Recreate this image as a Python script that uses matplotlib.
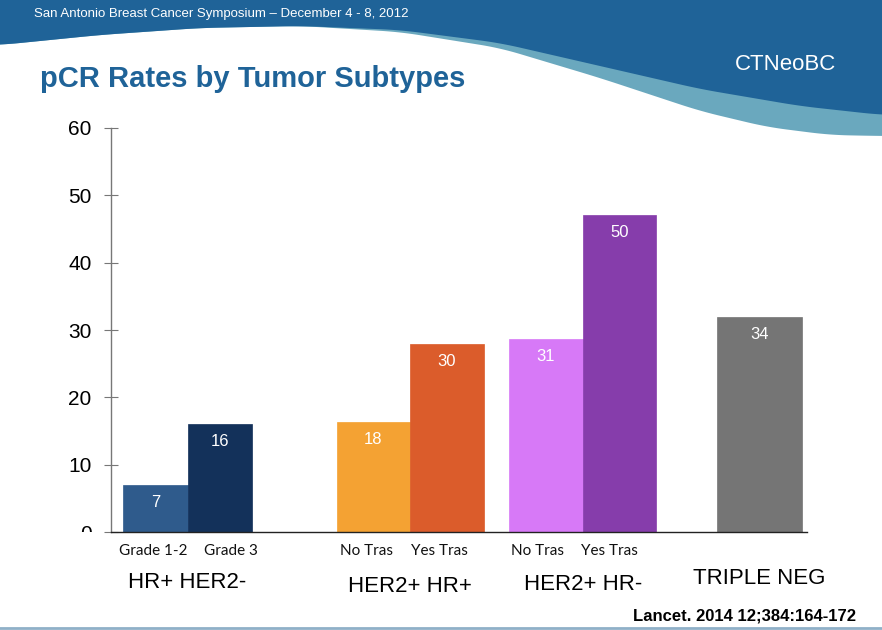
import numpy as np
import matplotlib.pyplot as plt
from matplotlib.transforms import Bbox, TransformedBbox

# ---- data ----
groups = ["HR+ HER2-", "HER2+ HR+", "HER2+ HR-", "TRIPLE NEG"]
sub_labels = [["Grade 1-2", "Grade 3"], ["No Tras", "Yes Tras"], ["No Tras", "Yes Tras"], [""]]
# bar heights as drawn on the slide
heights = [[7.0, 16.0], [16.3, 27.9], [28.7, 47.1], [31.9]]
# numbers printed inside the bars
value_labels = [["7", "16"], ["18", "30"], ["31", "50"], ["34"]]
bar_colors = [["#2f5b8c", "#13315a"], ["#f4a233", "#db5c2b"], ["#d779f7", "#863dab"], ["#757575"]]
yticks = [0, 10, 20, 30, 40, 50, 60]

# layout (x in axis units)
group_x = [0.87, 3.40, 5.36, 7.37]
bar_w = [0.73, 0.835, 0.835, 0.97]
sub_dx = [[-0.39, 0.49], [-0.50, 0.33], [-0.51, 0.31], [0]]
group_dy = [-1, 3, 0, -6]   # pixel nudges of the group captions

W, H = 882, 630
DARK = "#1f6398"
LIGHT = "#6aa8be"
FONT = "Liberation Sans"


def px(x, y):
    return x / W, 1 - y / H


def smooth_edge(pts, xs, win=41):
    xp, yp = zip(*pts)
    y = np.interp(xs, xp, yp)
    k = np.ones(win) / win
    pad = np.pad(y, win // 2, mode="edge")
    return np.convolve(pad, k, mode="valid")


fig = plt.figure(figsize=(W / 100, H / 100), dpi=100)

# ---- slide header waves ----
bg = fig.add_axes([0, 0, 1, 1])
bg.set_xlim(0, W)
bg.set_ylim(H, 0)
bg.axis("off")

xs = np.linspace(0, W, 883)
white_edge = smooth_edge([(0, 45), (100, 35), (200, 28), (300, 26), (400, 32), (500, 48),
                          (600, 78), (700, 111), (767, 127), (830, 135), (882, 136)], xs)
dark_edge = smooth_edge([(0, 45), (100, 35), (200, 28), (300, 26), (400, 30), (500, 43),
                         (600, 66), (700, 89), (800, 106), (882, 115)], xs)
dark_edge = np.minimum(dark_edge, white_edge)
bg.fill_between(xs, 0, white_edge, color=LIGHT, lw=0)
bg.fill_between(xs, 0, dark_edge, color=DARK, lw=0)
bg.axhline(628, color="#8fb0c8", lw=2)

fig.text(*px(34, 14), "San Antonio Breast Cancer Symposium \u2013 December 4 - 8, 2012",
         color="white", fontsize=9.5, family=FONT, va="center", ha="left")
fig.text(*px(786, 65), "CTNeoBC", color="white", fontsize=16, family=FONT,
         va="center", ha="center")
fig.text(*px(40, 87), "pCR Rates by Tumor Subtypes", color=DARK, fontsize=21,
         family=FONT, weight="bold", va="baseline", ha="left")
fig.text(*px(856, 616), "Lancet. 2014 12;384:164-172", color="black", fontsize=12,
         family=FONT, weight="bold", va="center", ha="right")

# ---- bar chart ----
ax = fig.add_axes([111 / W, 1 - 532 / H, 696 / W, 404 / H])
ax.patch.set_alpha(0)
ax.set_xlim(0, 7.91)
ax.set_ylim(0, 60)

for gi in range(len(groups)):
    n = len(heights[gi])
    w = bar_w[gi]
    for bi in range(n):
        x = group_x[gi] + (bi - (n - 1) / 2) * w
        ax.bar(x, heights[gi][bi], width=w, color=bar_colors[gi][bi], edgecolor=bar_colors[gi][bi],
               lw=0.5, zorder=2)
        ax.annotate(value_labels[gi][bi], (x, heights[gi][bi]), xytext=(0, -12.5),
                    textcoords="offset points", ha="center", va="center", color="white",
                    fontsize=12, family=FONT, zorder=3)
        if sub_labels[gi][bi]:
            ax.text(group_x[gi] + sub_dx[gi][bi], -0.047, sub_labels[gi][bi],
                    transform=ax.get_xaxis_transform(), ha="center", va="center",
                    fontsize=11, family="Lato", color="#111111")
    ax.annotate(groups[gi], (group_x[gi], 0), xycoords=ax.get_xaxis_transform(),
                xytext=(0, -(52 + group_dy[gi]) * 0.72), textcoords="offset points",
                ha="center", va="center", fontsize=16, family=FONT, color="black")

for s in ["top", "right"]:
    ax.spines[s].set_visible(False)
ax.spines["left"].set_color("#777777")
ax.spines["left"].set_linewidth(1)
ax.spines["bottom"].set_color("#222222")
ax.spines["bottom"].set_linewidth(1)
ax.spines["bottom"].set_zorder(4)

ax.set_yticks(yticks)
ax.set_yticklabels([str(t) for t in yticks], fontsize=15, family=FONT)
ax.tick_params(axis="y", direction="inout", length=10, color="#777777", pad=9)
ax.set_xticks([])

# the "0" label is half hidden below the baseline on the slide
clip = TransformedBbox(Bbox([[0, 1 - 532 / H], [1, 1]]), fig.transFigure)
zero = ax.yaxis.get_major_ticks()[0].label1
zero.set_clip_on(True)
zero.set_clip_box(clip)

fig.savefig("out.png", dpi=100)
